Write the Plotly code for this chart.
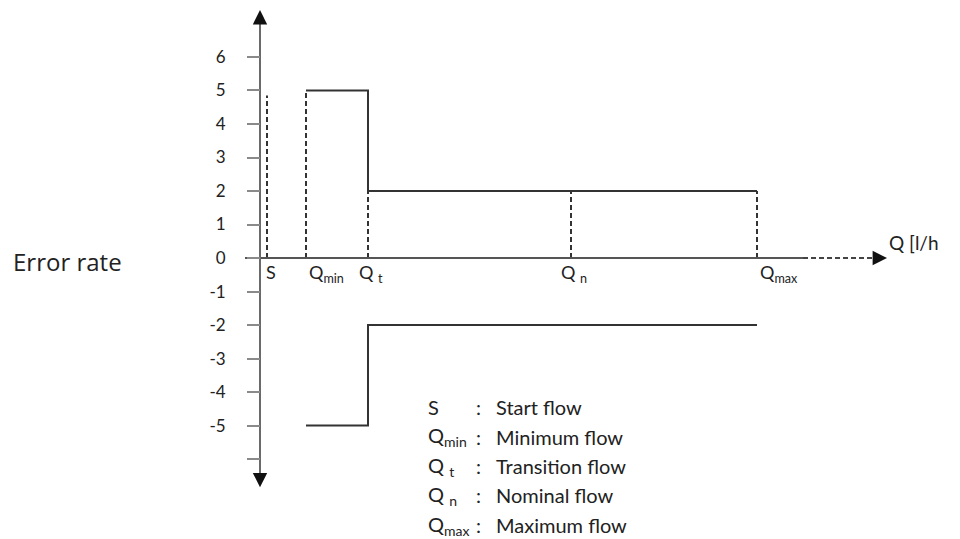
import plotly.graph_objects as go

# Characteristic flows (schematic positions along the Q axis)
flow_names = ["S", "Q<sub>min</sub>", "Q <sub>t</sub>", "Q <sub>n</sub>", "Q<sub>max</sub>"]
flow_pos = [0.7, 4.6, 10.8, 31.1, 49.7]
flow_marker_top = [4.85, 5, 2, 2, 2]   # height of dashed guide lines

# Maximum permissible error envelope
upper_x = [4.6, 10.8, 10.8, 49.7]
upper_y = [5, 5, 2, 2]
lower_x = [4.6, 10.8, 10.8, 49.7]
lower_y = [-5, -5, -2, -2]

y_ticks = [-6, -5, -4, -3, -2, -1, 0, 1, 2, 3, 4, 5, 6]
y_tick_text = ["", "-5", "-4", "-3", "-2", "-1", "0", "1", "2", "3", "4", "5", "6"]

legend_keys = ["S", "Q<sub>min</sub>", "Q <sub>t</sub>", "Q <sub>n</sub>", "Q<sub>max</sub>"]
legend_desc = ["Start flow", "Minimum flow", "Transition flow", "Nominal flow", "Maximum flow"]

LINE = "#333333"
TXT = "#222222"
FONT = "Lato"

fig = go.Figure()

# dashed guide lines
gx, gy = [], []
for p, h in zip(flow_pos, flow_marker_top):
    gx += [p, p, None]
    gy += [0, h, None]
fig.add_trace(go.Scatter(x=gx, y=gy, mode="lines",
                         line=dict(color=LINE, width=2, dash="5px,3px"),
                         hoverinfo="skip", showlegend=False))

# error envelope
fig.add_trace(go.Scatter(x=upper_x, y=upper_y, mode="lines",
                         line=dict(color=LINE, width=2), showlegend=False))
fig.add_trace(go.Scatter(x=lower_x, y=lower_y, mode="lines",
                         line=dict(color=LINE, width=2), showlegend=False))

# x axis line: solid then dashed
fig.add_trace(go.Scatter(x=[-1.5, 54.3], y=[0, 0], mode="lines",
                         line=dict(color="#555555", width=2),
                         hoverinfo="skip", showlegend=False, cliponaxis=False))
fig.add_trace(go.Scatter(x=[54.3, 61.5], y=[0, 0], mode="lines",
                         line=dict(color="#444444", width=2, dash="5px,3px"),
                         hoverinfo="skip", showlegend=False, cliponaxis=False))
# y axis line
fig.add_trace(go.Scatter(x=[0, 0], y=[7.0, -6.5], mode="lines",
                         line=dict(color="#6a6a6a", width=2),
                         hoverinfo="skip", showlegend=False, cliponaxis=False))

annotations = []
# arrow heads
annotations.append(dict(x=62.7, y=0, ax=-14, ay=0, xref="x", yref="y",
                        showarrow=True, arrowhead=2, arrowsize=1.6, arrowwidth=1.8,
                        arrowcolor="#111111", text=""))
annotations.append(dict(x=0, y=7.4, ax=0, ay=14, xref="x", yref="y",
                        showarrow=True, arrowhead=2, arrowsize=1.6, arrowwidth=1.8,
                        arrowcolor="#111111", text=""))
annotations.append(dict(x=0, y=-6.84, ax=0, ay=-14, xref="x", yref="y",
                        showarrow=True, arrowhead=2, arrowsize=1.6, arrowwidth=1.8,
                        arrowcolor="#111111", text=""))

# flow labels below the axis
anchors = ["left", "left", "center", "center", "left"]
shifts = [-3, 1, 3, 3, 1]
for name, p, a, s in zip(flow_names, flow_pos, anchors, shifts):
    annotations.append(dict(x=p, y=0, xref="x", yref="y", text=name,
                            showarrow=False, xanchor=a, yanchor="top", yshift=-1, xshift=s,
                            font=dict(family=FONT, size=18, color=TXT)))

# pixel-positioned text (converted to paper fractions below)
pix = []
pix.append(dict(x=887, y=242, text="Q [l/h", size=19, family=FONT))
for i, (k, d) in enumerate(zip(legend_keys, legend_desc)):
    yy = 407 + i * 29.5
    pix.append(dict(x=426, y=yy, text=k, size=20, family=FONT))
    pix.append(dict(x=474, y=yy, text=":", size=20, family=FONT))
    pix.append(dict(x=494, y=yy, text=d, size=20, family=FONT))
pix.append(dict(x=11, y=261, text="Error rate", size=24, family="Open Sans"))

L, R, T, B = 245, 60, 5, 44
W, H = 960, 539
pw, ph = W - L - R, H - T - B
for p in pix:
    annotations.append(dict(x=(p["x"] - L) / pw, y=((H - B) - p["y"]) / ph,
                            xref="paper", yref="paper", text=p["text"],
                            showarrow=False, xanchor="left", yanchor="middle",
                            font=dict(family=p["family"], size=p["size"], color=TXT)))

fig.update_layout(
    width=W, height=H,
    margin=dict(l=L, r=R, t=T, b=B),
    paper_bgcolor="white", plot_bgcolor="white",
    showlegend=False,
    xaxis=dict(range=[-1.5, 64], visible=False, fixedrange=True),
    yaxis=dict(range=[-7.07, 7.55], anchor="free", position=(260 - L) / pw,
               tickmode="array", tickvals=y_ticks, ticktext=y_tick_text,
               ticks="outside", ticklen=13, tickwidth=2, tickcolor="#8a8a8a",
               ticklabelstandoff=18, showline=False, zeroline=False, showgrid=False,
               tickfont=dict(family=FONT, size=17, color=TXT)),
    annotations=annotations,
)

fig.write_html("out.html", config={"displayModeBar": False},
               post_script="document.body.style.margin='0';document.body.style.overflow='hidden';")
